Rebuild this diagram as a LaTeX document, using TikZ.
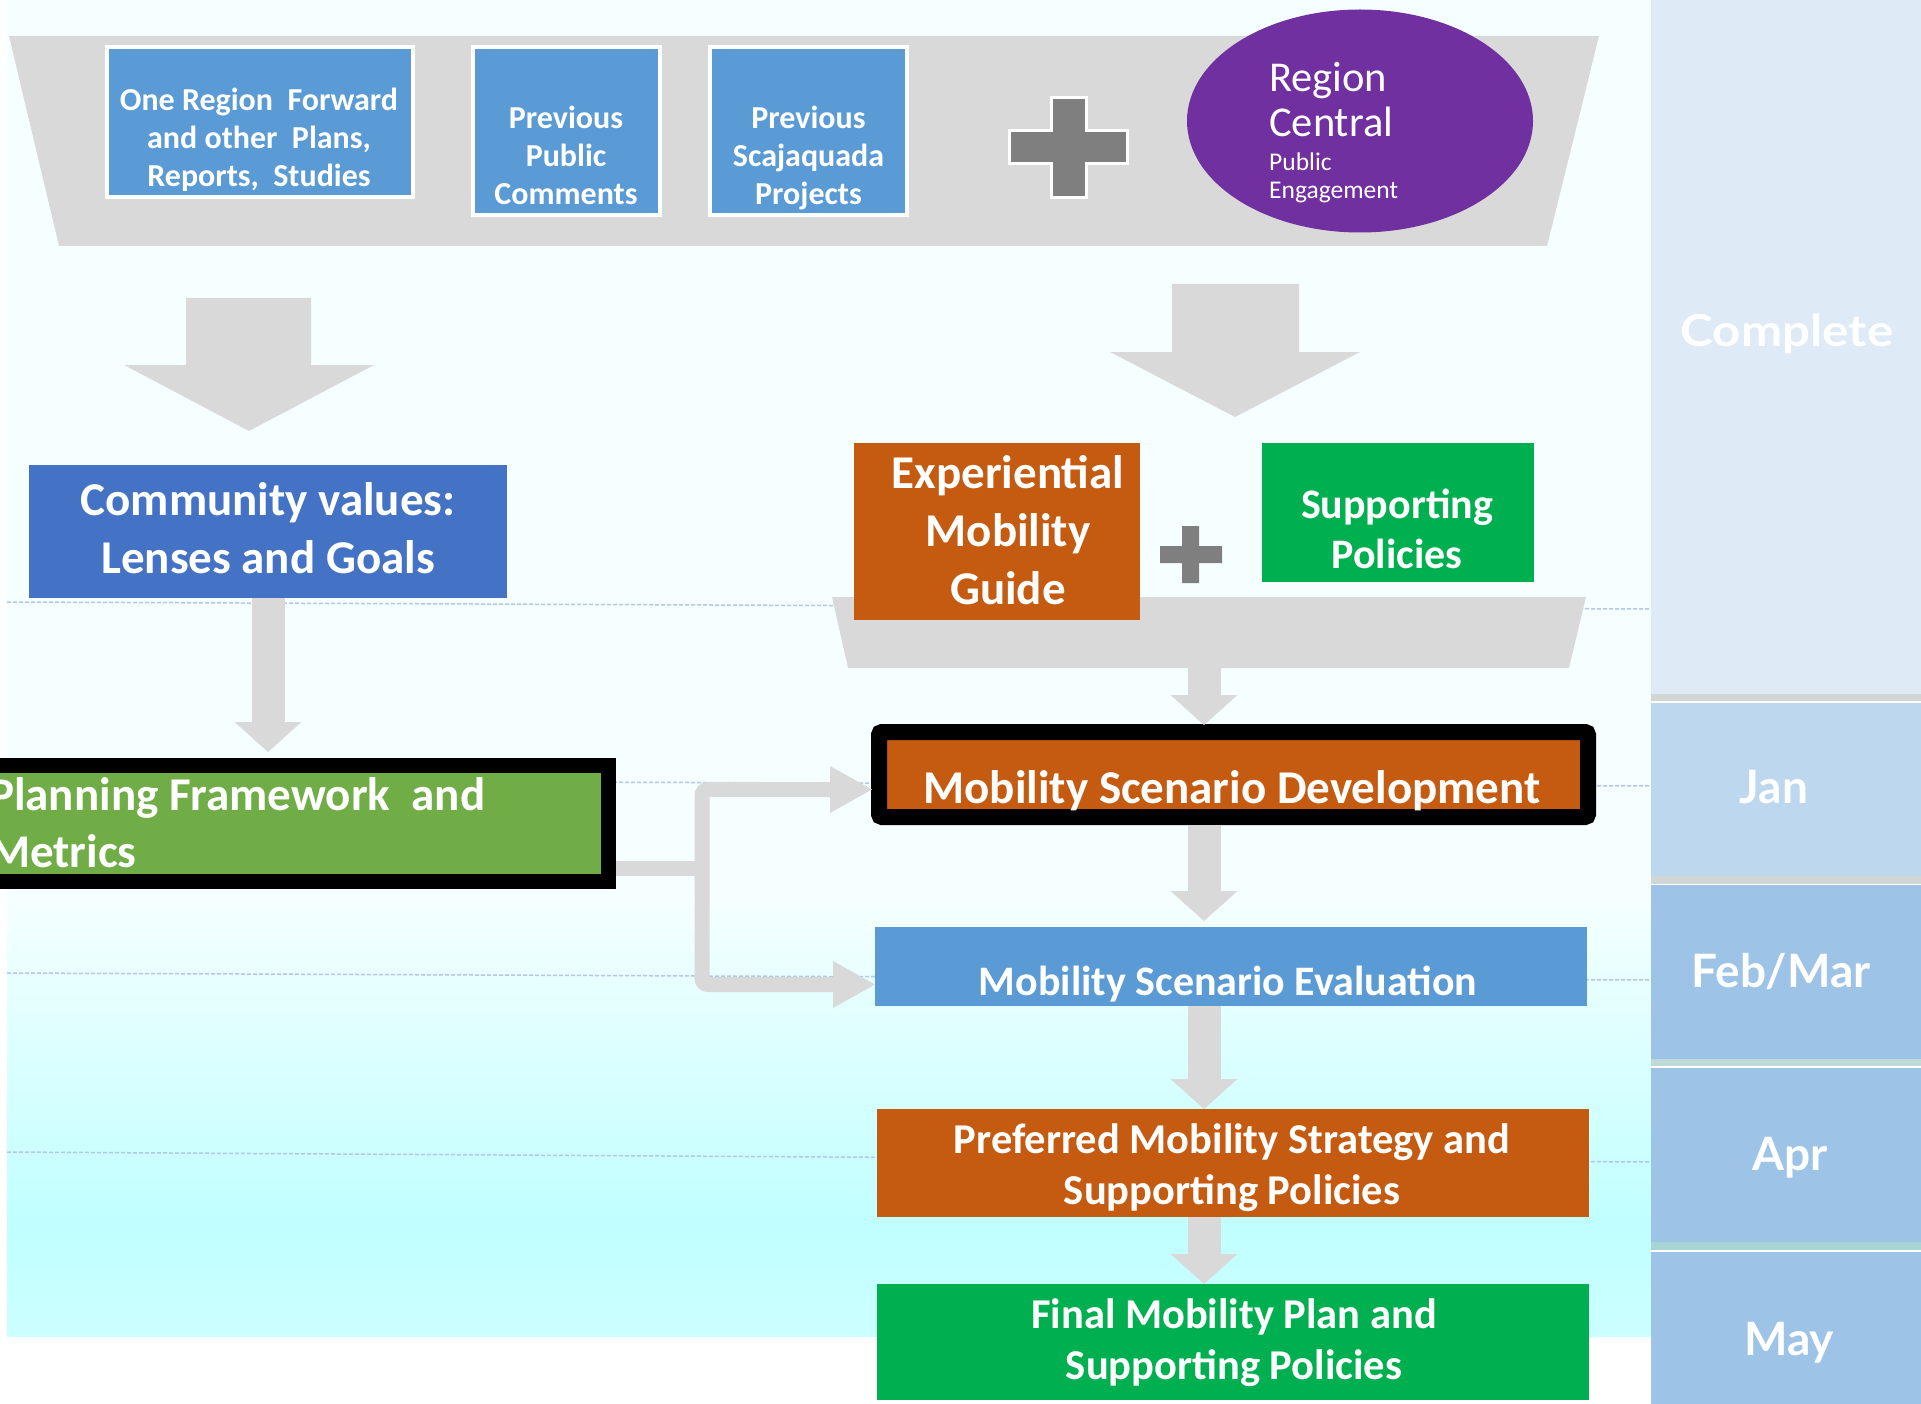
\documentclass[tikz,border=0pt]{standalone}
\usepackage{fontspec}
\setmainfont{Carlito}
\newfontfamily\gillfont{Lato}
\usetikzlibrary{shapes.geometric,arrows.meta,calc}
\definecolor{bgpale}{HTML}{F5FFFF}
\definecolor{bgcyan}{HTML}{C0FFFF}
\definecolor{bgbot}{HTML}{CCFFFF}
\definecolor{grayA}{HTML}{D9D9D9}
\definecolor{grayD}{HTML}{7F7F7F}
\definecolor{blueA}{HTML}{5B9BD5}
\definecolor{blueB}{HTML}{4472C4}
\definecolor{orangeA}{HTML}{C55A11}
\definecolor{greenA}{HTML}{00B050}
\definecolor{greenB}{HTML}{70AD47}
\definecolor{purpleA}{HTML}{7030A0}
\definecolor{colComplete}{HTML}{DEEAF6}
\definecolor{colJan}{HTML}{BDD7EE}
\definecolor{colMonth}{HTML}{9DC3E6}
\definecolor{sepA}{HTML}{D0D6D6}
\definecolor{sepB}{HTML}{BFD9D9}
\definecolor{sepC}{HTML}{A8D4D4}
\definecolor{gridline}{HTML}{B4C7E7}
\newcommand\fsz[2]{\fontsize{#1}{#2}\selectfont}
\tikzset{
  box/.style={rectangle, inner sep=0pt, outer sep=0pt},
  lbl/.style={text=white, inner sep=0pt, align=center},
  monthlbl/.style={text=white, inner sep=0pt},
  fatconn/.style={draw=grayA, line width=33pt, -{Triangle[length=30pt,width=67pt,line width=0pt]}},
  thinconn/.style={draw=grayA, line width=15pt, rounded corners=6pt},
  thinarrow/.style={-{Triangle[length=42pt,width=47pt,line width=0pt]}},
  grid/.style={draw=gridline, line width=1.5pt, dash pattern=on 4pt off 2pt},
}
\begin{document}
\begin{tikzpicture}[x=1pt,y=-1pt]
\useasboundingbox (0,0) rectangle (1921,1404);
\clip (0,0) rectangle (1921,1404);
% background
\fill[white] (0,0) rectangle (1921,1404);
\fill[bgpale] (7,0) rectangle (1651,900);
\shade[top color=bgpale, bottom color=bgcyan] (7,899) rectangle (1651,1226);
\shade[top color=bgcyan, bottom color=bgbot] (7,1225) rectangle (1651,1336);
% grid lines
\draw[grid] (7,602) -- (1651,609);
\draw[grid] (7,780) -- (1651,786);
\draw[grid] (7,973) -- (1651,980);
\draw[grid] (7,1152) -- (1651,1162);
% right column
\fill[colComplete] (1651,0) rectangle (1921,694);
\fill[sepA] (1651,694) rectangle (1921,701);
\fill[colJan] (1651,703) rectangle (1921,876);
\fill[sepA] (1651,876) rectangle (1921,884);
\fill[colMonth] (1651,885) rectangle (1921,1059);
\fill[sepB] (1651,1059) rectangle (1921,1066);
\fill[colMonth] (1651,1068) rectangle (1921,1242);
\fill[sepC] (1651,1242) rectangle (1921,1250);
\fill[colMonth] (1651,1252) rectangle (1921,1404);
\node[monthlbl, anchor=base, font={\gillfont\bfseries\fsz{44}{44}}] (mComplete) at (1787,347) {\scalebox{1.12}[1]{Complete}};
\node[monthlbl, anchor=base, font={\gillfont\bfseries\fsz{46}{46}}] (mJan) at (1774,803) {Jan};
\node[monthlbl, anchor=base, font={\gillfont\bfseries\fsz{46}{46}}] (mFeb) at (1781,987) {Feb/Mar};
\node[monthlbl, anchor=base, font={\gillfont\bfseries\fsz{46}{46}}] (mApr) at (1790,1170) {Apr};
\node[monthlbl, anchor=base, font={\gillfont\bfseries\fsz{46}{46}}] (mMay) at (1789,1355) {May};
% top funnel
\fill[grayA] (9,36) -- (1599,36) -- (1547,246) -- (59,246) -- cycle;
\node[box, fill=blueA, draw=white, line width=4pt, minimum width=306, minimum height=149.5] (src1) at (260,122.25) {};
\node[box, fill=blueA, draw=white, line width=4pt, minimum width=187, minimum height=168] (src2) at (566,131.5) {};
\node[box, fill=blueA, draw=white, line width=4pt, minimum width=197, minimum height=168] (src3) at (808.5,131.5) {};
\node[lbl, anchor=base, font={\bfseries\fsz{32}{38}}] (t1) at (259,187) {One Region\ \ Forward\\and other\ \ Plans,\\Reports,\ \ Studies};
\node[lbl, anchor=base, font={\bfseries\fsz{32}{38}}] (t2) at (566,205) {Previous\\Public\\Comments};
\node[lbl, anchor=base, font={\bfseries\fsz{32}{38}}] (t3) at (808.5,205) {Previous\\Scajaquada\\Projects};
\fill[grayD, draw=white, line width=3pt] (1051,98) -- (1086,98) -- (1086,131) -- (1127,131) -- (1127,164) -- (1086,164) -- (1086,198) -- (1051,198) -- (1051,164) -- (1009,164) -- (1009,131) -- (1051,131) -- cycle;
\node[ellipse, fill=purpleA, minimum width=346, minimum height=223, inner sep=0pt] (rc) at (1360,121) {};
\node[text=white, inner sep=0pt, anchor=base west, align=left, font={\fsz{42.5}{45}}] (rct) at (1269,199) {Region\\Central\\[-11pt]\fsz{25.5}{28}Public\\[-17pt]\fsz{25.5}{28}Engagement};
% big arrows
\fill[grayA] (186,298) -- (311,298) -- (311,365) -- (374,365) -- (249,431) -- (124,365) -- (186,365) -- cycle;
\fill[grayA] (1172,284) -- (1299,284) -- (1299,352) -- (1360,352) -- (1235,417) -- (1110,352) -- (1172,352) -- cycle;
% community values
\node[box, fill=blueB, minimum width=478, minimum height=133] (comm) at (268,531.5) {};
\node[lbl, anchor=base, font={\bfseries\fsz{47}{58}}] (commt) at (268,573) {Community values:\\Lenses and Goals};
% experiential + supporting
\fill[grayA] (832,597) -- (1586,597) -- (1569,668) -- (848,668) -- cycle;
\coordinate (trap2s) at (1204,668);
\node[box, fill=orangeA, minimum width=286, minimum height=177] (emg) at (997,531.5) {};
\node[lbl, anchor=base, font={\bfseries\fsz{47}{58}}] (emgt) at (1008,604) {Experiential\\Mobility\\Guide};
\fill[grayD] (1182,526) -- (1199,526) -- (1199,546) -- (1222,546) -- (1222,563) -- (1199,563) -- (1199,583) -- (1182,583) -- (1182,563) -- (1160,563) -- (1160,546) -- (1182,546) -- cycle;
\node[box, fill=greenA, minimum width=272, minimum height=139] (sup) at (1398,512.5) {};
\node[lbl, anchor=base, font={\bfseries\fsz{42}{50}}] (supt) at (1397,568) {Supporting\\Policies};
% planning framework
\node[box, fill=greenB, draw=black, line width=15pt, minimum width=648.5, minimum height=116] (plan) at (284.25,823) {};
\node[lbl, anchor=base west, align=left, font={\bfseries\fsz{47}{57}}] (plant) at (-11,867) {Planning Framework\ \ and\\Metrics};
% mobility scenario development
\node[box, fill=orangeA, draw=black, line width=16pt, rounded corners=3pt, minimum width=709, minimum height=85] (dev) at (1233.5,774.5) {};
\node[lbl, anchor=base, font={\bfseries\fsz{47}{47}}] (devt) at (1232,803) {Mobility Scenario Development};
% evaluation
\node[box, fill=blueA, minimum width=712, minimum height=79] (eval) at (1231,966.5) {};
\node[lbl, anchor=base, font={\bfseries\fsz{42}{42}}] (evalt) at (1228,995) {Mobility Scenario Evaluation};
% preferred
\node[box, fill=orangeA, minimum width=712, minimum height=108] (pref) at (1233,1163) {};
\node[lbl, anchor=base, font={\bfseries\fsz{42.5}{51}}] (preft) at (1232,1204) {Preferred Mobility Strategy and\\Supporting Policies};
% final
\node[box, fill=greenA, minimum width=712, minimum height=116] (final) at (1233,1342) {};
\node[lbl, anchor=base, font={\bfseries\fsz{42.5}{51}}] (finalt) at (1234,1379) {Final Mobility Plan and\\Supporting Policies};
% connectors
\coordinate (ax) at (1204,0);
\draw[fatconn] (comm.south) -- ($(comm.south |- plan.north)+(0,-13)$);
\draw[fatconn] (trap2s) -- ($(ax |- dev.north)+(0,-7)$);
\draw[fatconn] ($(ax |- dev.south)+(0,8)$) -- ($(ax |- eval.north)+(0,-6)$);
\draw[fatconn] (ax |- eval.south) -- (ax |- pref.north);
\draw[fatconn] (ax |- pref.south) -- (ax |- final.north);
\coordinate (jn) at (702,868);
\draw[thinconn] ([xshift=7.5pt]plan.east |- jn) -- (jn);
\draw[thinconn, thinarrow] (jn) |- ([xshift=-7pt,yshift=-15pt]dev.west);
\draw[thinconn, thinarrow] (jn) |- ([yshift=-18pt]eval.west);
\end{tikzpicture}
\end{document}
